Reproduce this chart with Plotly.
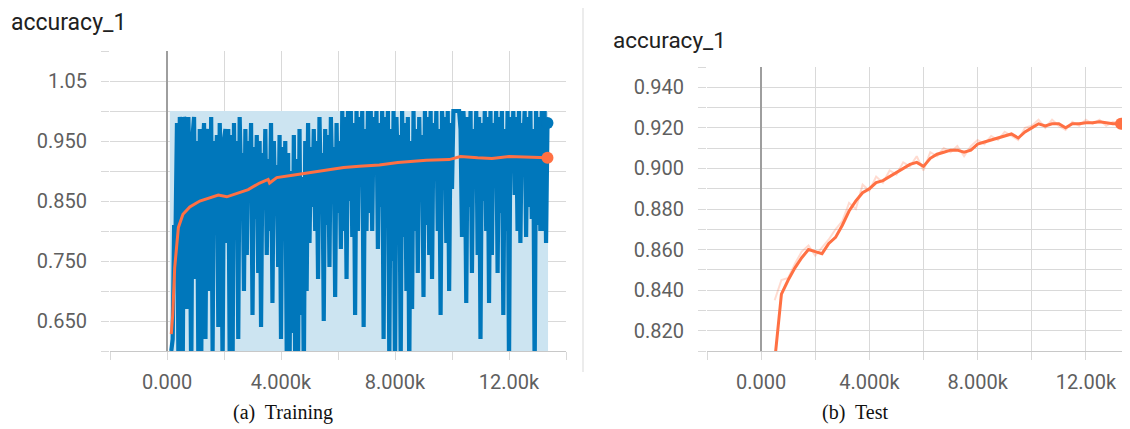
import numpy as np
import plotly.graph_objects as go

# ---------------- data ----------------
# Training run (blue): accuracy per logged step (steps every 50 from 150 to 13350)
train_raw_steps = list(range(150, 13351, 50))
train_raw_acc = [
    0.60, 0.62, 0.81, 0.80, 0.98, 0.58, 0.99, 0.97, 0.55, 0.99, 0.98, 0.67, 0.99, 0.86, 0.55, 0.96, 0.99, 0.72, 0.95, 0.58,
    0.97, 0.57, 0.93, 0.98, 0.62, 0.94, 0.97, 0.70, 0.99, 0.60, 0.95, 0.85, 0.96, 0.64, 0.98, 0.90, 0.57, 0.95, 0.97, 0.78,
    0.97, 0.58, 0.96, 0.56, 0.98, 0.80, 0.95, 0.62, 0.99, 0.88, 0.93, 0.70, 0.97, 0.76, 0.95, 0.87, 0.98, 0.66, 0.94, 0.82,
    0.96, 0.73, 0.95, 0.64, 0.93, 0.85, 0.97, 0.76, 0.92, 0.80, 0.98, 0.68, 0.95, 0.83, 0.91, 0.74, 0.96, 0.62, 0.94, 0.79,
    0.95, 0.60, 0.93, 0.57, 0.90, 0.63, 0.96, 0.55, 0.92, 0.58, 0.97, 0.66, 0.89, 0.55, 0.95, 0.70, 0.98, 0.78, 0.94, 0.84,
    0.97, 0.80, 0.95, 0.72, 0.99, 0.86, 0.93, 0.65, 0.97, 0.81, 0.96, 0.74, 0.99, 0.88, 0.94, 0.69, 0.98, 0.83, 0.95, 0.77,
    1.00, 0.80, 0.99, 0.72, 1.00, 0.85, 1.00, 0.79, 0.98, 0.66, 1.00, 0.80, 0.99, 0.90, 1.00, 0.64, 0.97, 0.80, 1.00, 0.83,
    1.00, 0.80, 0.99, 0.92, 1.00, 0.77, 0.98, 0.84, 1.00, 0.62, 0.99, 0.82, 1.00, 0.58, 0.97, 0.75, 1.00, 0.55, 0.99, 0.90,
    0.96, 0.58, 1.00, 0.79, 0.98, 0.70, 0.99, 0.56, 0.95, 0.67, 1.00, 0.80, 0.97, 0.73, 0.99, 0.85, 0.96, 0.69, 1.00, 0.81,
    0.99, 0.76, 1.00, 0.72, 0.98, 0.89, 1.00, 0.80, 0.97, 0.66, 1.00, 0.94, 0.99, 0.78, 1.00, 0.70, 0.98, 0.87, 1.00, 1.00,
    1.00, 1.00, 1.00, 0.97, 0.79, 1.00, 0.95, 0.68, 0.99, 0.84, 1.00, 0.73, 0.97, 0.88, 1.00, 0.76, 0.99, 0.62, 0.98, 0.85,
    1.00, 0.80, 0.99, 0.68, 1.00, 0.76, 0.98, 0.92, 1.00, 0.73, 0.99, 0.83, 1.00, 0.66, 0.97, 0.80, 1.00, 0.57, 0.99, 0.90,
    1.00, 0.86, 0.99, 0.80, 1.00, 0.78, 0.98, 0.94, 1.00, 0.79, 0.99, 0.84, 1.00, 0.82, 0.97, 0.56, 1.00, 0.81, 0.99, 0.80,
    1.00, 0.80, 1.00, 0.78, 0.98,
]

# Training run band (raw-data envelope, light blue)
train_band_steps = [100, 13370]
train_band_top = [1.0, 1.0]

# Training run (orange): smoothed accuracy
train_smooth_steps = [150, 200, 270, 400, 560, 800, 1150, 1500, 1800, 2100, 2400, 2850, 3250, 3550, 3600,
                      3850, 4400, 5000, 5600, 6200, 6750, 7450, 8100, 9100, 9900, 10300, 10900, 11400,
                      12000, 12600, 13350]
train_smooth_acc = [0.628, 0.66, 0.739, 0.806, 0.828, 0.840, 0.850, 0.856, 0.860, 0.857, 0.862, 0.869, 0.880,
                    0.886, 0.880, 0.889, 0.893, 0.897, 0.901, 0.906, 0.908, 0.910, 0.914, 0.918, 0.919,
                    0.924, 0.922, 0.921, 0.924, 0.923, 0.922]

# Test run (orange): smoothed and raw accuracy
test_steps = [500, 750, 1000, 1250, 1500, 1750, 2000, 2250, 2500, 2750, 3000, 3250, 3500, 3750, 4000,
              4250, 4500, 4750, 5000, 5250, 5500, 5750, 6000, 6250, 6500, 6750, 7000, 7250, 7500, 7750,
              8000, 8250, 8500, 8750, 9000, 9250, 9500, 9750, 10000, 10250, 10500, 10750, 11000, 11250,
              11500, 11750, 12000, 12250, 12500, 12750, 13000, 13300]
test_smooth_acc = [0.805, 0.838, 0.845, 0.851, 0.856, 0.860, 0.859, 0.858, 0.863, 0.866, 0.872, 0.879, 0.884,
                   0.888, 0.890, 0.893, 0.894, 0.896, 0.898, 0.900, 0.902, 0.903, 0.901, 0.905, 0.907,
                   0.908, 0.909, 0.909, 0.908, 0.909, 0.912, 0.913, 0.914, 0.915, 0.916, 0.917, 0.915,
                   0.918, 0.920, 0.922, 0.921, 0.922, 0.922, 0.920, 0.922, 0.922, 0.9225, 0.9225, 0.923,
                   0.9225, 0.922, 0.922]
test_raw_acc = [0.835, 0.845, 0.846, 0.853, 0.859, 0.862, 0.857, 0.861, 0.865, 0.870, 0.874, 0.883, 0.880,
                0.892, 0.889, 0.896, 0.893, 0.899, 0.897, 0.903, 0.901, 0.906, 0.899, 0.908, 0.906,
                0.910, 0.908, 0.911, 0.906, 0.911, 0.914, 0.912, 0.916, 0.914, 0.918, 0.916, 0.914,
                0.920, 0.921, 0.924, 0.920, 0.924, 0.921, 0.919, 0.923, 0.921, 0.924, 0.922, 0.924,
                0.921, 0.923, 0.922]

# Axis ticks
x_tick_vals = [-2000, 0, 2000, 4000, 6000, 8000, 10000, 12000, 14000]
x_tick_text = ["", "0.000", "", "4.000k", "", "8.000k", "", "12.00k", ""]
train_y_tick_vals = [0.60, 0.65, 0.70, 0.75, 0.80, 0.85, 0.90, 0.95, 1.00, 1.05, 1.10]
train_y_tick_text = ["", "0.650", "", "0.750", "", "0.850", "", "0.950", "", "1.05", ""]
test_y_tick_vals = [0.81, 0.82, 0.83, 0.84, 0.85, 0.86, 0.87, 0.88, 0.89, 0.90, 0.91, 0.92, 0.93, 0.94, 0.95]
test_y_tick_text = ["", "0.820", "", "0.840", "", "0.860", "", "0.880", "", "0.900", "", "0.920", "", "0.940", ""]

# ---------------- style ----------------
BLUE = "#0077bb"
BAND = "#cce4f1"
ORANGE = "#ff7043"
ORANGE_FAINT = "rgba(255,112,67,0.25)"
GRID = "#d9d9d9"
TICKFONT = dict(family="Roboto", size=20, color="#5f5f5f")

# page body has an 8px margin: size the figure to the visible area and offset positions
OFF = 8
W, H = 1130 - OFF, 429 - OFF

def px_x(p):
    return (p - OFF) / W

def px_y(p):
    return 1 - (p - OFF) / H

fig = go.Figure()

# --- left panel (training) ---
fig.add_trace(go.Scatter(x=train_band_steps, y=train_band_top, mode="lines", fill="tozeroy",
                         fillcolor=BAND, line=dict(width=0, color=BAND), xaxis="x", yaxis="y",
                         hoverinfo="skip", showlegend=False))
fig.add_trace(go.Scatter(x=train_raw_steps, y=train_raw_acc, mode="lines",
                         line=dict(color=BLUE, width=4.2), xaxis="x", yaxis="y", showlegend=False))
fig.add_trace(go.Scatter(x=train_smooth_steps, y=train_smooth_acc, mode="lines",
                         line=dict(color=ORANGE, width=3), xaxis="x", yaxis="y", showlegend=False))
fig.add_trace(go.Scatter(x=[train_raw_steps[-1]], y=[train_raw_acc[-1]], mode="markers",
                         marker=dict(color=BLUE, size=12), xaxis="x", yaxis="y", showlegend=False))
fig.add_trace(go.Scatter(x=[train_smooth_steps[-1]], y=[train_smooth_acc[-1]], mode="markers",
                         marker=dict(color=ORANGE, size=12), xaxis="x", yaxis="y", showlegend=False))

# --- right panel (test) ---
fig.add_trace(go.Scatter(x=test_steps, y=test_raw_acc, mode="lines",
                         line=dict(color=ORANGE_FAINT, width=2), xaxis="x2", yaxis="y2", showlegend=False))
fig.add_trace(go.Scatter(x=test_steps, y=test_smooth_acc, mode="lines",
                         line=dict(color=ORANGE, width=3), xaxis="x2", yaxis="y2", showlegend=False))
fig.add_trace(go.Scatter(x=[test_steps[-1]], y=[test_smooth_acc[-1]], mode="markers",
                         marker=dict(color=ORANGE, size=12), xaxis="x2", yaxis="y2", showlegend=False))

common_x = dict(tickvals=x_tick_vals, ticktext=x_tick_text, showgrid=True, gridcolor=GRID, gridwidth=1.3,
                zeroline=True, zerolinecolor="#9e9e9e", zerolinewidth=2, ticks="outside", ticklen=8,
                tickcolor=GRID, tickwidth=1.3, tickfont=TICKFONT, showline=True, linecolor="#c8c8c8",
                linewidth=1.3, fixedrange=True, ticklabelstandoff=5)
common_y = dict(showgrid=True, gridcolor=GRID, gridwidth=1.3, zeroline=False, ticks="outside", ticklen=8,
                tickcolor=GRID, tickwidth=1.3, tickfont=TICKFONT, showline=False, fixedrange=True,
                ticklabelstandoff=10)

fig.update_layout(
    width=W, height=H, margin=dict(l=0, r=0, t=0, b=0),
    paper_bgcolor="white", plot_bgcolor="white",
    xaxis=dict(domain=[px_x(110), px_x(566)], range=[-2000, 14000], anchor="y", **common_x),
    yaxis=dict(domain=[px_y(351), px_y(51)], range=[0.60, 1.10], anchor="x",
               tickvals=train_y_tick_vals, ticktext=train_y_tick_text, **common_y),
    xaxis2=dict(domain=[px_x(707), 1.0], range=[-2000, 13630], anchor="y2", **common_x),
    yaxis2=dict(domain=[px_y(351), px_y(67)], range=[0.81, 0.95], anchor="x2",
                tickvals=test_y_tick_vals, ticktext=test_y_tick_text, **common_y),
    shapes=[
        dict(type="line", xref="paper", yref="paper", x0=px_x(583), x1=px_x(583), y0=px_y(8), y1=px_y(372),
             line=dict(color="#e6e6e6", width=1.5)),
    ],
    annotations=[
        dict(text="accuracy_1", xref="paper", yref="paper", x=px_x(10), y=1.0, xanchor="left",
             yanchor="top", borderpad=0, showarrow=False,
             font=dict(family="Roboto", size=23, color="#212121")),
        dict(text="accuracy_1", xref="paper", yref="paper", x=px_x(611), y=px_y(40), xanchor="left",
             yanchor="middle", showarrow=False, font=dict(family="Roboto", size=22.5, color="#212121")),
        dict(text="(a)  Training", xref="paper", yref="paper", x=px_x(283), y=px_y(412), xanchor="center",
             yanchor="middle", showarrow=False, font=dict(family="Liberation Serif", size=20, color="#111111")),
        dict(text="(b)  Test", xref="paper", yref="paper", x=px_x(855), y=px_y(412), xanchor="center",
             yanchor="middle", showarrow=False, font=dict(family="Liberation Serif", size=20, color="#111111")),
    ],
)

fig.write_html("out.html")
